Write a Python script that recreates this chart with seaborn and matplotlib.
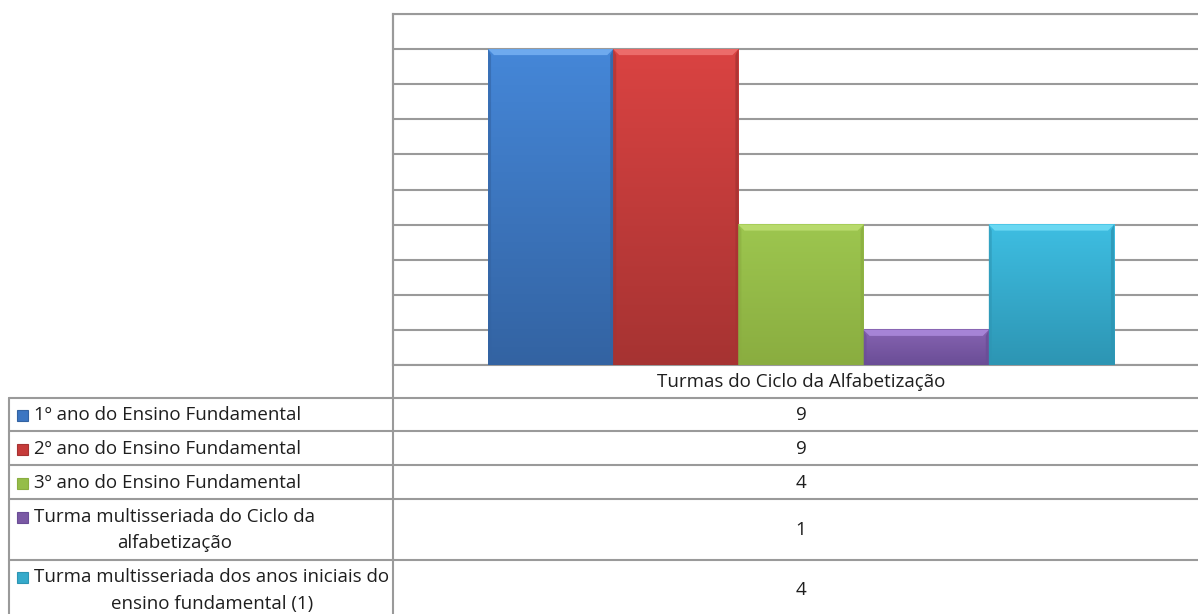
import numpy as np
import pandas as pd
import matplotlib
matplotlib.use("Agg")
import matplotlib.pyplot as plt
import seaborn as sns
from matplotlib.patches import Polygon, Rectangle
from matplotlib.colors import to_rgb

# -----------------------------
# DATA
# -----------------------------
category = "Turmas do Ciclo da Alfabetização"
series = [
    "1º ano do Ensino Fundamental",
    "2º ano do Ensino Fundamental",
    "3º ano do Ensino Fundamental",
    "Turma multisseriada do Ciclo da alfabetização",
    "Turma multisseriada dos anos iniciais do ensino fundamental (1)",
]
values = [9, 9, 4, 1, 4]

# table row labels as shown (wrapped)
row_lines = [
    ["1º ano do Ensino Fundamental"],
    ["2º ano do Ensino Fundamental"],
    ["3º ano do Ensino Fundamental"],
    ["Turma multisseriada do Ciclo da", "alfabetização"],
    ["Turma multisseriada dos anos iniciais do", "ensino fundamental (1)"],
]

colors_mid = ["#3c76c2", "#c63b3a", "#95bd49", "#7a59a4", "#35aacb"]
colors_top = ["#4587d8", "#da4342", "#9dc64f", "#8764b2", "#3ebee2"]
colors_bottom = ["#3363a2", "#a63332", "#8aad40", "#6a4d96", "#2d95b3"]
colors_light = ["#6eaaee", "#ec6c6a", "#b8da6c", "#a684d6", "#6ad8f2"]

df = pd.DataFrame({"categoria": [category] * len(series), "serie": series, "valor": values})

# -----------------------------
# FIGURE / LAYOUT (pixels)
# -----------------------------
sns.set_theme(style="white")
plt.rcParams["font.family"] = ["Open Sans", "DejaVu Sans"]

W, H = 1198, 614
fig = plt.figure(figsize=(W / 100, H / 100), dpi=100)
fig.patch.set_facecolor("white")

plot_l, plot_r, plot_t, plot_b = 393, 1209, 14, 365
ax = fig.add_axes([plot_l / W, 1 - plot_b / H, (plot_r - plot_l) / W, (plot_b - plot_t) / H])
ax.set_facecolor("none")

sns.barplot(data=df, x="categoria", y="valor", hue="serie", hue_order=series,
            palette=colors_mid, saturation=1, width=0.767, gap=0,
            edgecolor="none", legend=False, ax=ax, zorder=3)

# gradient + bevel on each bar
px_x = 1 / (plot_r - plot_l)
px_y = 10 / (plot_b - plot_t)
for patch, top, bot, light in zip(ax.patches, colors_top, colors_bottom, colors_light):
    x0, y0 = patch.get_x(), patch.get_y()
    w, h = patch.get_width(), patch.get_height()
    grad = np.linspace(0, 1, 200)[:, None]
    c1, c2 = np.array(to_rgb(top)), np.array(to_rgb(bot))
    img = (c1[None, None, :] * (1 - grad[..., None]) + c2[None, None, :] * grad[..., None])
    ax.imshow(img, extent=[x0, x0 + w, y0, y0 + h], aspect="auto", origin="upper", zorder=4)
    d = 6
    ax.add_patch(Polygon([(x0, y0 + h), (x0 + w, y0 + h),
                          (x0 + w - d * px_x, y0 + h - d * px_y), (x0 + d * px_x, y0 + h - d * px_y)],
                         closed=True, facecolor=light, edgecolor="none", zorder=5))
    ax.add_patch(Polygon([(x0 + w, y0), (x0 + w, y0 + h),
                          (x0 + w - 3 * px_x, y0 + h - d * px_y), (x0 + w - 3 * px_x, y0)],
                         closed=True, facecolor=bot, edgecolor="none", alpha=0.8, zorder=5))
    ax.add_patch(Polygon([(x0, y0), (x0, y0 + h),
                          (x0 + 3 * px_x, y0 + h - d * px_y), (x0 + 3 * px_x, y0)],
                         closed=True, facecolor=bot, edgecolor="none", alpha=0.6, zorder=5))

ax.set_xlim(-0.5, 0.5)
ax.set_ylim(0, 10)
ax.set_yticks(range(0, 11))
ax.yaxis.grid(True, color="#9a9a9a", linewidth=1.5, zorder=0)
ax.set_axisbelow(True)
ax.set_xticks([])
ax.set_yticklabels([])
ax.tick_params(left=False, bottom=False)
ax.set_xlabel("")
ax.set_ylabel("")
for s in ["left", "top", "bottom"]:
    ax.spines[s].set_color("#9a9a9a")
    ax.spines[s].set_linewidth(1.5)
ax.spines["right"].set_visible(False)

# -----------------------------
# DATA TABLE
# -----------------------------
tab = fig.add_axes([0, 0, 1, 1], zorder=5)
tab.set_xlim(0, W)
tab.set_ylim(H, 0)
tab.axis("off")
tab.patch.set_visible(False)

line_kw = dict(color="#9a9a9a", linewidth=1.5)
row_edges = [398, 431, 465, 499, 560]
for y in row_edges:
    tab.plot([9, W], [y, y], **line_kw)
tab.plot([9, 9], [398, H], **line_kw)
tab.plot([393, 393], [14, H], **line_kw)

txt_kw = dict(fontsize=13.5, color="#1e1e1e", va="center")
tab.text(801, 382, category, ha="center", **txt_kw)

row_y = [[415], [449], [483], [517, 543], [577, 604]]
second_x = [None, None, None, 175, 212]
val_y = [415, 449, 483, 530, 590]
for i, (lines, ys) in enumerate(zip(row_lines, row_y)):
    tab.add_patch(Rectangle((17, ys[0] - 5.5), 11, 11, facecolor=colors_mid[i],
                            edgecolor=colors_bottom[i], linewidth=0.8))
    tab.text(34, ys[0], lines[0], ha="left", **txt_kw)
    if len(lines) > 1:
        tab.text(second_x[i], ys[1], lines[1], ha="center", **txt_kw)
    tab.text(801, val_y[i], str(values[i]), ha="center", **txt_kw)

fig.savefig("out.png", dpi=100)
